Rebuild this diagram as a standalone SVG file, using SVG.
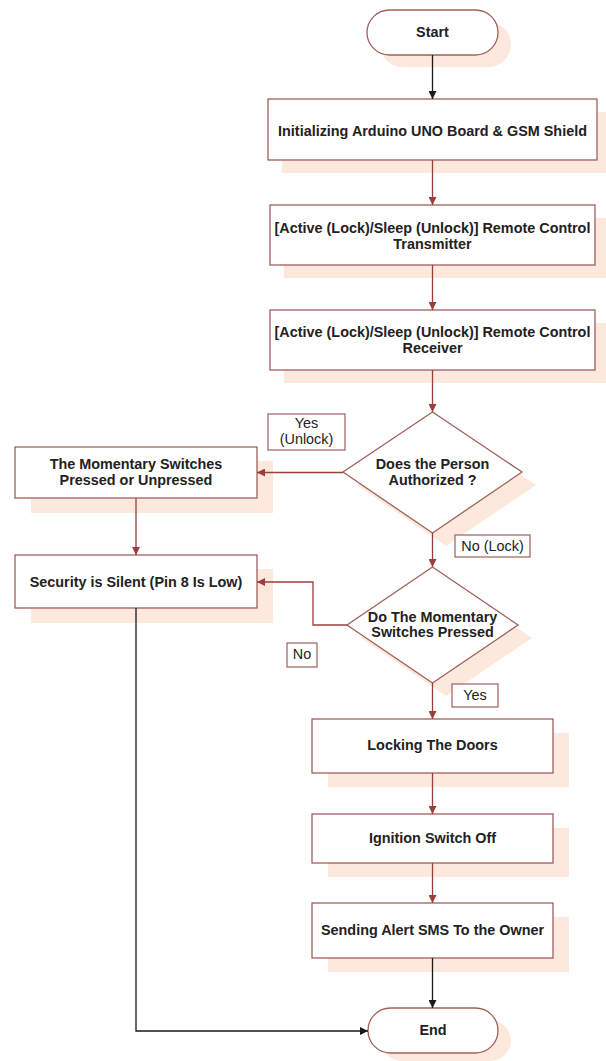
<svg xmlns="http://www.w3.org/2000/svg" width="606" height="1061" viewBox="0 0 606 1061">
<defs>
<style>
.shadow{fill:#fce8dc;stroke:none}
.node{fill:#ffffff;stroke:#a0605c;stroke-width:1.3}
.t{font-family:"Liberation Sans",Arial,sans-serif;font-size:14.4px;font-weight:bold;fill:#222;text-anchor:middle}
.lbl{font-family:"Liberation Sans",Arial,sans-serif;font-size:14.4px;fill:#222;text-anchor:middle}
.lbox{fill:#ffffff;stroke:#a0605c;stroke-width:1.2}
.red{fill:none;stroke:#9a3e3a;stroke-width:1.3}
.blk{fill:none;stroke:#1a1a1a;stroke-width:1.3}
</style>
<marker id="ar" viewBox="0 0 10 10" refX="10" refY="5" markerWidth="8" markerHeight="8" markerUnits="userSpaceOnUse" orient="auto"><path d="M0,0 L10,5 L0,10 z" fill="#9a3e3a"/></marker>
<marker id="ab" viewBox="0 0 10 10" refX="10" refY="5" markerWidth="8" markerHeight="8" markerUnits="userSpaceOnUse" orient="auto"><path d="M0,0 L10,5 L0,10 z" fill="#1a1a1a"/></marker>
</defs>
<rect width="606" height="1061" fill="#ffffff"/>

<g id="start">
<rect class="shadow" x="380" y="22" width="131" height="45" rx="22.5"/>
<rect class="node" x="367" y="10" width="131" height="45" rx="22.5"/>
<text class="t" x="432.5" y="37">Start</text>
</g>
<g id="init">
<rect class="shadow" x="282" y="112" width="329" height="61"/>
<rect class="node" x="268" y="99" width="329" height="61"/>
<text class="t" x="432.5" y="136">Initializing Arduino UNO Board &amp; GSM Shield</text>
</g>
<g id="transmitter">
<rect class="shadow" x="284" y="218" width="325" height="60"/>
<rect class="node" x="270" y="205" width="325" height="60"/>
<text class="t" x="432.5" y="233">[Active (Lock)/Sleep (Unlock)] Remote Control</text>
<text class="t" x="432.5" y="249">Transmitter</text>
</g>
<g id="receiver">
<rect class="shadow" x="284" y="323" width="325" height="60"/>
<rect class="node" x="270" y="310" width="325" height="60"/>
<text class="t" x="432.5" y="337">[Active (Lock)/Sleep (Unlock)] Remote Control</text>
<text class="t" x="432.5" y="353">Receiver</text>
</g>
<g id="authorized">
<polygon class="shadow" points="446,425 536,485 446,546 357,485"/>
<polygon class="node" points="432.5,412 522,472 432.5,533 343,472"/>
<text class="t" x="432.5" y="469">Does the Person</text>
<text class="t" x="432.5" y="485">Authorized ?</text>
</g>
<g id="momentary">
<rect class="shadow" x="31" y="461" width="242" height="52"/>
<rect class="node" x="15" y="447" width="242" height="51"/>
<text class="t" x="136" y="469">The Momentary Switches</text>
<text class="t" x="136" y="485">Pressed or Unpressed</text>
</g>
<g id="silent">
<rect class="shadow" x="31" y="569" width="242" height="54"/>
<rect class="node" x="15" y="555" width="242" height="53"/>
<text class="t" x="136" y="587">Security is Silent (Pin 8 Is Low)</text>
</g>
<g id="pressed">
<polygon class="shadow" points="446,580 532,638 446,696 361,638"/>
<polygon class="node" points="432.5,567 518,625 432.5,683 347,625"/>
<text class="t" x="432.5" y="622">Do The Momentary</text>
<text class="t" x="432.5" y="637">Switches Pressed</text>
</g>
<g id="locking">
<rect class="shadow" x="328" y="733" width="241" height="54"/>
<rect class="node" x="312" y="719" width="241" height="54"/>
<text class="t" x="432.5" y="750">Locking The Doors</text>
</g>
<g id="ignition">
<rect class="shadow" x="328" y="828" width="241" height="49"/>
<rect class="node" x="312" y="814" width="241" height="49"/>
<text class="t" x="432.5" y="843">Ignition Switch Off</text>
</g>
<g id="sms">
<rect class="shadow" x="328" y="917" width="241" height="55"/>
<rect class="node" x="312" y="903" width="241" height="55"/>
<text class="t" x="432.5" y="935">Sending Alert SMS To the Owner</text>
</g>
<g id="end">
<rect class="shadow" x="381" y="1020" width="130" height="41" rx="22"/>
<rect class="node" x="368" y="1008" width="130" height="45" rx="22.5"/>
<text class="t" x="433" y="1035">End</text>
</g>

<g id="connectors">
<line class="blk" x1="432.5" y1="55" x2="432.5" y2="99" marker-end="url(#ab)"/>
<line class="red" x1="432.5" y1="160" x2="432.5" y2="205" marker-end="url(#ar)"/>
<line class="red" x1="432.5" y1="265" x2="432.5" y2="310" marker-end="url(#ar)"/>
<line class="red" x1="432.5" y1="370" x2="432.5" y2="412" marker-end="url(#ar)"/>
<line class="red" x1="343" y1="472.5" x2="257" y2="472.5" marker-end="url(#ar)"/>
<line class="red" x1="136" y1="498" x2="136" y2="555" marker-end="url(#ar)"/>
<line class="red" x1="432.5" y1="533" x2="432.5" y2="567" marker-end="url(#ar)"/>
<polyline class="red" points="347,625 313,625 313,582 257,582" marker-end="url(#ar)"/>
<line class="red" x1="432.5" y1="683" x2="432.5" y2="719" marker-end="url(#ar)"/>
<line class="red" x1="432.5" y1="773" x2="432.5" y2="814" marker-end="url(#ar)"/>
<line class="red" x1="432.5" y1="863" x2="432.5" y2="903" marker-end="url(#ar)"/>
<line class="blk" x1="432.5" y1="958" x2="432.5" y2="1008" marker-end="url(#ab)"/>
<polyline class="blk" points="136,608 136,1031 368,1031" marker-end="url(#ab)"/>
</g>

<g id="label-yes-unlock">
<rect class="lbox" x="268" y="414" width="77" height="36"/>
<text class="lbl" x="306.5" y="428">Yes</text>
<text class="lbl" x="306.5" y="444">(Unlock)</text>
</g>
<g id="label-no-lock">
<rect class="lbox" x="455" y="535" width="75" height="22"/>
<text class="lbl" x="492.5" y="551">No (Lock)</text>
</g>
<g id="label-no">
<rect class="lbox" x="287" y="643" width="30" height="24"/>
<text class="lbl" x="302" y="659">No</text>
</g>
<g id="label-yes">
<rect class="lbox" x="452" y="684" width="46" height="23"/>
<text class="lbl" x="475" y="700">Yes</text>
</g>
</svg>
